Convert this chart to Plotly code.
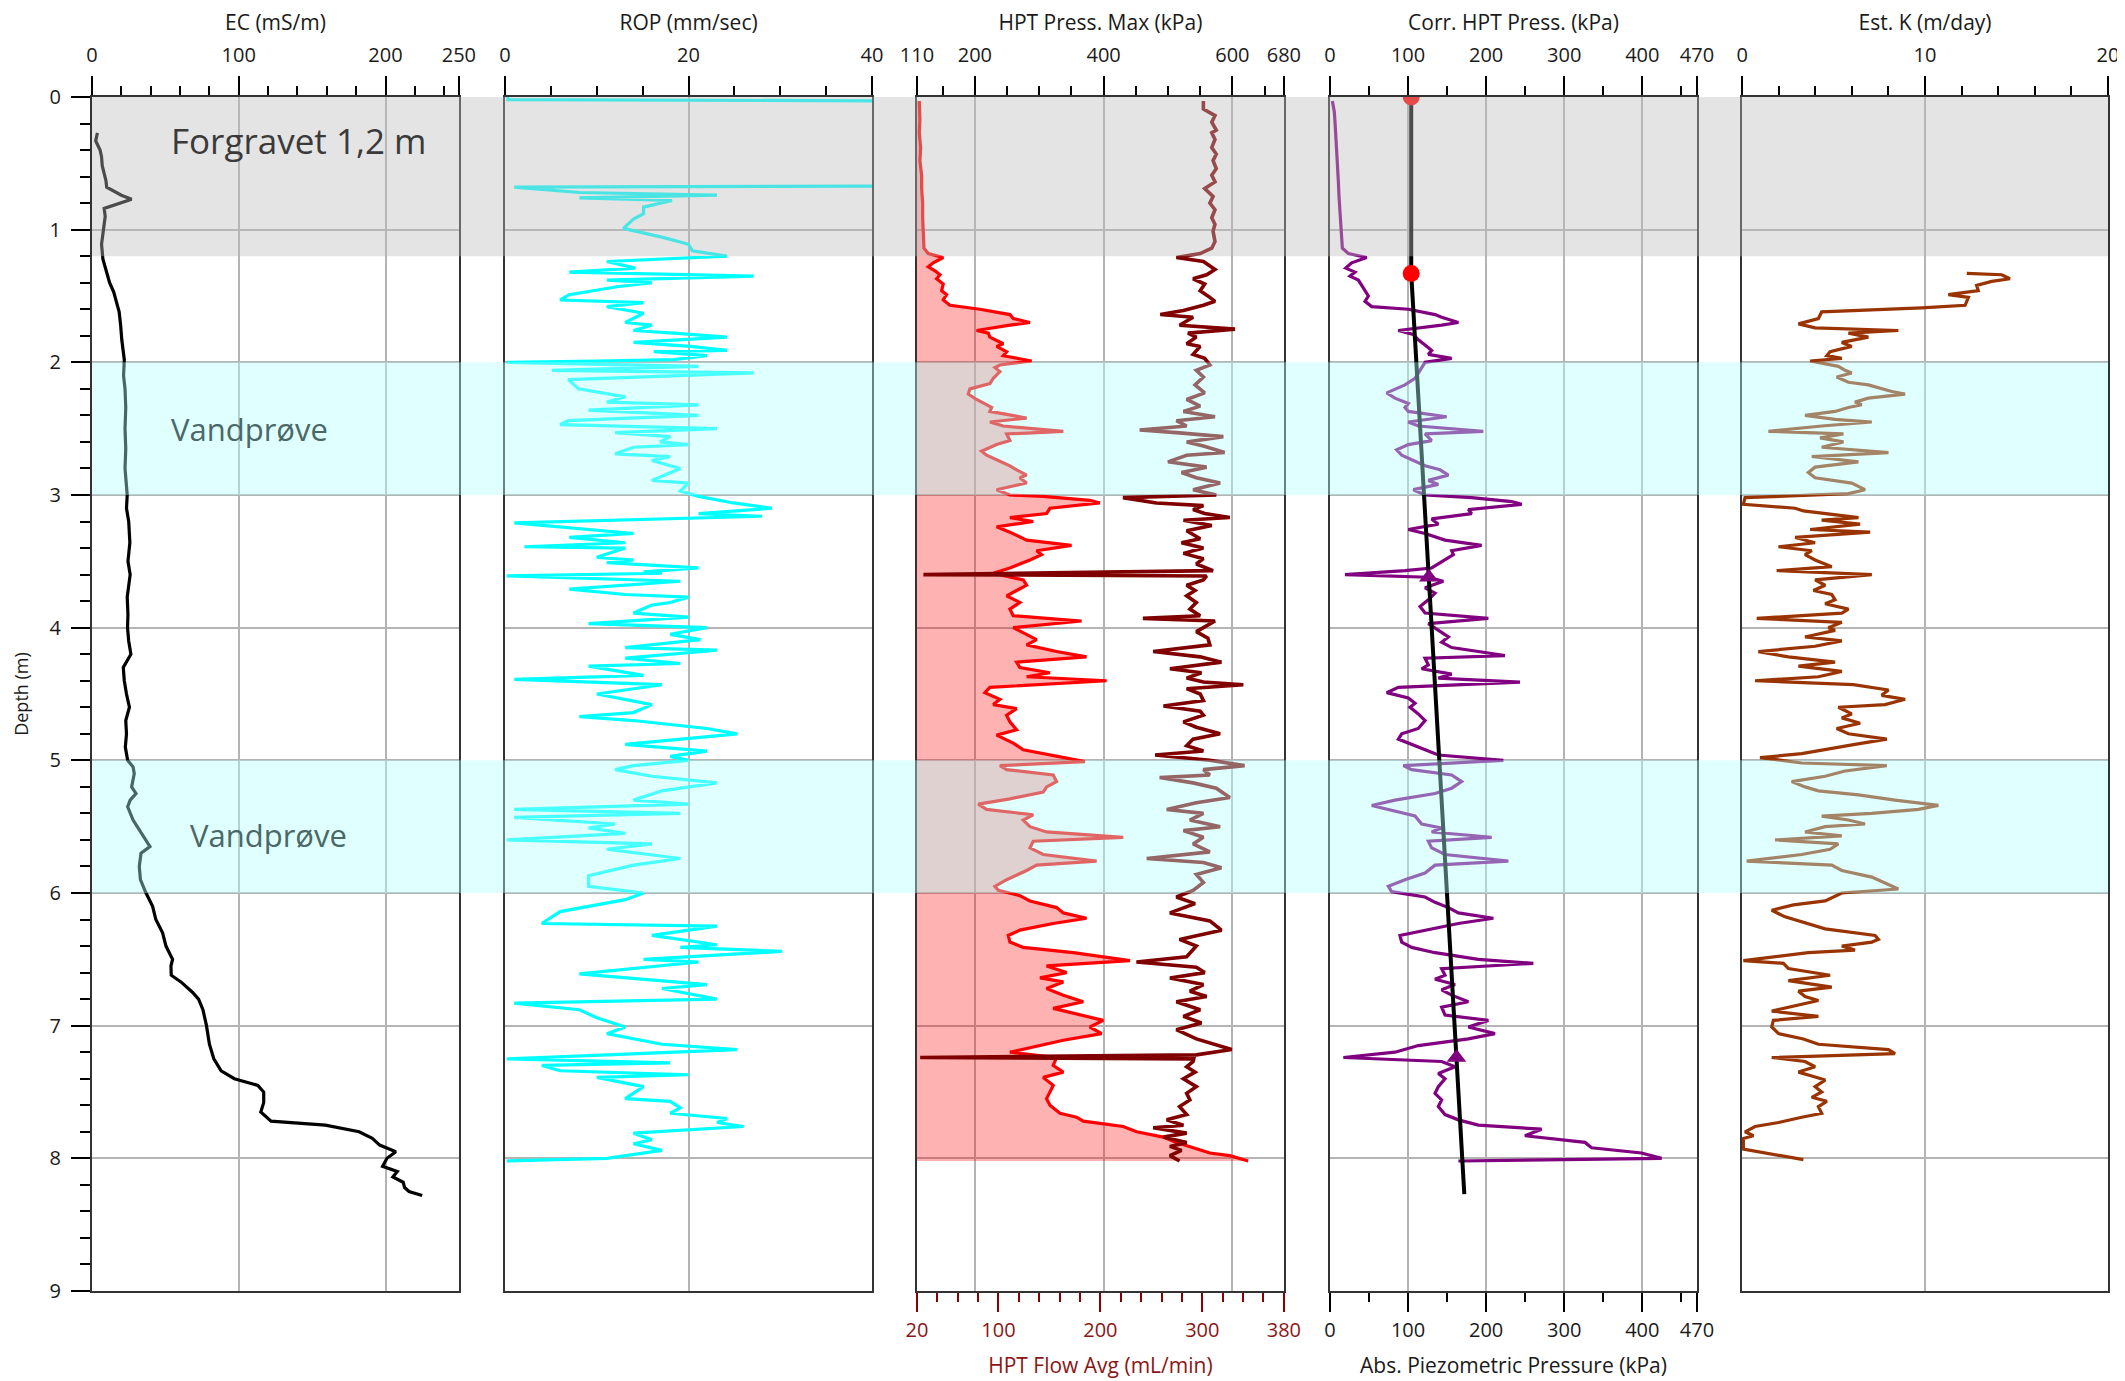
import plotly.graph_objects as go

# ---------------- DATA ----------------
ec_depth = [0.27, 0.33, 0.40, 0.45, 0.52, 0.57, 0.63, 0.68, 0.72, 0.74, 0.77, 0.79, 0.81, 0.84, 0.90, 0.96, 1.05, 1.11, 1.22,
            1.32, 1.40, 1.47, 1.55, 1.62, 1.72, 1.83, 1.98, 2.10, 2.20, 2.34, 2.50, 2.65, 2.80, 3.00, 3.10, 3.20, 3.36, 3.50,
            3.60, 3.77, 3.90, 4.00, 4.10, 4.20, 4.30, 4.40, 4.50, 4.60, 4.70, 4.80, 4.90, 5.00, 5.05, 5.10, 5.20, 5.25, 5.30,
            5.35, 5.45, 5.55, 5.60, 5.65, 5.70, 5.80, 5.90, 6.00, 6.10, 6.20, 6.30, 6.40, 6.50, 6.55, 6.62, 6.67, 6.75, 6.80,
            6.88, 7.00, 7.14, 7.25, 7.34, 7.40, 7.45, 7.50, 7.58, 7.65, 7.72, 7.75, 7.80, 7.85, 7.90, 7.95, 8.00, 8.06, 8.10,
            8.14, 8.18, 8.22, 8.25, 8.28]
ec_value = [3.7, 2.5, 5.5, 6.5, 7.0, 8.3, 9.5, 10, 16, 20, 27, 22, 16.6, 8.3, 9.0, 8.3, 7.0, 6.5, 7.4,
            10, 12, 14.8, 17, 18.5, 19.5, 20.3, 22, 21.5, 22.5, 23, 22.5, 23, 22.5, 24, 23.5, 25, 25.8, 24.5,
            26, 24, 24.5, 24.2, 25, 26.5, 21.3, 22, 23.5, 25.5, 23, 23.5, 22.7, 24.3, 28, 28.8, 27, 30, 26,
            24.3, 28, 34, 36.8, 39.5, 33.4, 32.2, 33, 36.8, 41.3, 43.5, 48.1, 50.4, 54.9, 53.8, 54, 60.6, 68.6, 72.6,
            75.6, 78, 80, 83, 88, 97, 113, 117, 117, 115, 122, 159, 182, 191, 196, 207, 201, 198, 208,
            205, 212, 213, 216, 225]

rop_depth = [0.00, 0.02, 0.03, 0.67, 0.68, 0.72, 0.74, 0.76, 0.78, 0.83, 0.88, 0.92, 0.99, 1.04, 1.06, 1.11, 1.16, 1.20,
             1.24, 1.29, 1.32, 1.35, 1.38, 1.40, 1.43, 1.49, 1.53, 1.55, 1.58, 1.63, 1.70, 1.72, 1.76, 1.78, 1.81, 1.85,
             1.88, 1.91, 1.92, 1.95, 1.98, 1.99, 2.00, 2.03, 2.06, 2.08, 2.13, 2.20, 2.26, 2.30, 2.32, 2.36, 2.40, 2.44,
             2.47, 2.50, 2.53, 2.56, 2.60, 2.62, 2.64, 2.69, 2.71, 2.74, 2.80, 2.89, 2.91, 2.97, 3.01, 3.06, 3.10, 3.14,
             3.16, 3.21, 3.29, 3.32, 3.36, 3.39, 3.40, 3.47, 3.49, 3.51, 3.55, 3.58, 3.59, 3.61, 3.65, 3.71, 3.75, 3.77,
             3.81, 3.83, 3.89, 3.92, 3.97, 4.00, 4.05, 4.09, 4.15, 4.17, 4.23, 4.27, 4.29, 4.36, 4.39, 4.43, 4.50, 4.58,
             4.64, 4.67, 4.70, 4.76, 4.80, 4.88, 4.93, 4.97, 5.00, 5.04, 5.07, 5.12, 5.17, 5.23, 5.30, 5.33, 5.37, 5.40,
             5.43, 5.48, 5.51, 5.53, 5.55, 5.60, 5.63, 5.67, 5.74, 5.79, 5.87, 5.95, 6.00, 6.05, 6.14, 6.23, 6.25, 6.32,
             6.36, 6.39, 6.41, 6.44, 6.50, 6.52, 6.61, 6.69, 6.72, 6.80, 6.83, 6.88, 6.94, 7.01, 7.06, 7.14, 7.18, 7.25,
             7.28, 7.30, 7.34, 7.37, 7.39, 7.43, 7.46, 7.55, 7.57, 7.62, 7.66, 7.70, 7.73, 7.76, 7.81, 7.86, 7.89, 7.94,
             8.00, 8.02]
rop_value = [0.3, 0.3, 45, 45, 1.0, 8.1, 23.1, 8.1, 18.2, 15.1, 15.1, 14.0, 12.9, 16.2, 17.3, 20.0, 20.4, 24.2,
             11.1, 14.2, 7.0, 27.1, 11.1, 16.0, 12.2, 7.0, 6.0, 15.1, 11.1, 15.1, 13.1, 16.0, 14.0, 18.4, 24.2, 14.0,
             20.2, 24.2, 16.2, 22.0, 18.4, 10.0, 0.2, 21.1, 5.1, 27.1, 6.9, 8.0, 13.1, 11.1, 21.1, 9.1, 21.1, 6.9,
             6.0, 23.1, 12.0, 18.0, 16.9, 20.0, 14.0, 12.0, 18.0, 16.0, 19.1, 16.0, 20.0, 19.1, 21.1, 24.9, 29.1, 21.1,
             28.0, 1.0, 14.0, 7.0, 13.1, 2.1, 13.1, 10.0, 14.0, 11.1, 21.1, 15.1, 17.1, 0.2, 19.1, 7.0, 13.1, 20.0,
             18.0, 16.0, 14.0, 20.0, 9.1, 22.0, 18.0, 21.3, 13.1, 23.1, 13.1, 19.1, 9.1, 15.1, 1.0, 17.1, 10.0, 16.0,
             14.0, 8.1, 14.0, 22.0, 25.3, 13.1, 22.0, 18.0, 20.0, 14.0, 12.0, 16.0, 23.1, 17.1, 14.0, 20.0, 1.0, 19.1,
             1.0, 12.0, 9.1, 11.1, 13.1, 0.2, 16.0, 11.1, 19.1, 14.0, 9.1, 9.1, 15.1, 13.1, 6.0, 4.0, 23.1, 16.0,
             20.0, 23.1, 19.1, 30.2, 15.1, 21.1, 8.1, 22.0, 17.1, 23.1, 1.0, 8.1, 10.0, 13.1, 11.1, 17.1, 25.3, 0.2,
             18.0, 4.0, 6.0, 20.0, 10.0, 13.1, 15.1, 13.1, 18.0, 19.1, 18.0, 24.2, 23.1, 26.0, 14.0, 16.0, 14.0, 17.1,
             11.1, 0.2]

press_depth = [0.03, 0.09, 0.14, 0.19, 0.25, 0.27, 0.32, 0.38, 0.43, 0.48, 0.54, 0.59, 0.64, 0.69, 0.75, 0.80, 0.85, 0.91,
               0.96, 1.01, 1.09, 1.14, 1.18, 1.21, 1.24, 1.30, 1.34, 1.37, 1.41, 1.46, 1.51, 1.54, 1.57, 1.61, 1.64, 1.66,
               1.72, 1.75, 1.78, 1.81, 1.86, 1.88, 1.94, 1.97, 2.02, 2.06, 2.11, 2.17, 2.23, 2.28, 2.33, 2.37, 2.41, 2.44,
               2.48, 2.51, 2.53, 2.56, 2.60, 2.63, 2.68, 2.70, 2.75, 2.79, 2.83, 2.87, 2.91, 2.96, 3.00, 3.02, 3.06, 3.08,
               3.11, 3.14, 3.17, 3.19, 3.23, 3.27, 3.33, 3.36, 3.40, 3.44, 3.48, 3.52, 3.57, 3.60, 3.61, 3.64, 3.68, 3.72,
               3.76, 3.81, 3.86, 3.91, 3.93, 3.95, 4.00, 4.03, 4.08, 4.13, 4.18, 4.22, 4.26, 4.31, 4.34, 4.38, 4.41, 4.43,
               4.46, 4.50, 4.55, 4.59, 4.63, 4.66, 4.71, 4.75, 4.80, 4.84, 4.89, 4.93, 4.96, 5.00, 5.04, 5.07, 5.11, 5.13,
               5.17, 5.21, 5.28, 5.32, 5.37, 5.40, 5.45, 5.50, 5.53, 5.58, 5.63, 5.69, 5.74, 5.77, 5.81, 5.86, 5.92, 5.98,
               6.03, 6.08, 6.15, 6.21, 6.28, 6.35, 6.40, 6.48, 6.52, 6.56, 6.60, 6.64, 6.69, 6.74, 6.78, 6.82, 6.88, 6.93,
               6.98, 7.03, 7.10, 7.15, 7.18, 7.22, 7.24, 7.25, 7.27, 7.31, 7.35, 7.40, 7.46, 7.51, 7.56, 7.61, 7.67, 7.71,
               7.75, 7.77, 7.81, 7.84, 7.88, 7.91, 7.94, 7.98, 8.02]
press_value = [555, 555, 573, 568, 575, 568, 573, 568, 575, 570, 575, 568, 573, 557, 570, 565, 573, 568,
               573, 570, 573, 568, 550, 513, 555, 573, 560, 539, 557, 550, 565, 573, 555, 524, 488, 539,
               518, 604, 531, 544, 529, 550, 539, 557, 565, 544, 555, 542, 557, 529, 550, 524, 573, 513,
               529, 456, 513, 586, 529, 555, 588, 529, 500, 560, 521, 544, 581, 539, 575, 430, 482, 555,
               539, 557, 596, 524, 568, 529, 550, 521, 555, 524, 555, 544, 570, 120, 560, 555, 529, 542,
               529, 544, 534, 550, 461, 573, 555, 544, 562, 565, 477, 550, 583, 503, 552, 529, 555, 617,
               529, 550, 555, 493, 550, 555, 524, 544, 581, 539, 529, 555, 480, 565, 619, 555, 565, 487,
               539, 575, 596, 544, 498, 555, 534, 581, 524, 555, 539, 565, 467, 555, 583, 544, 555, 539,
               513, 542, 503, 565, 583, 518, 544, 529, 451, 544, 557, 503, 555, 534, 560, 513, 550, 524,
               552, 513, 544, 578, 599, 544, 115, 540, 539, 529, 542, 524, 544, 529, 534, 518, 529, 498,
               524, 477, 529, 493, 529, 503, 521, 503, 518]

flow_depth = [0.03, 0.17, 0.27, 0.38, 0.48, 0.59, 0.69, 0.80, 0.91, 1.01, 1.14, 1.18, 1.21, 1.25, 1.28, 1.31, 1.34, 1.37,
              1.41, 1.46, 1.49, 1.53, 1.57, 1.60, 1.64, 1.67, 1.70, 1.72, 1.76, 1.78, 1.81, 1.86, 1.88, 1.92, 1.95, 1.99,
              2.02, 2.04, 2.07, 2.12, 2.16, 2.20, 2.24, 2.28, 2.34, 2.37, 2.42, 2.45, 2.48, 2.52, 2.54, 2.59, 2.62, 2.67,
              2.70, 2.74, 2.78, 2.81, 2.85, 2.87, 2.91, 2.96, 3.00, 3.01, 3.04, 3.06, 3.10, 3.14, 3.17, 3.20, 3.24, 3.28,
              3.34, 3.38, 3.42, 3.45, 3.49, 3.55, 3.59, 3.64, 3.68, 3.72, 3.76, 3.81, 3.86, 3.91, 3.95, 4.00, 4.05, 4.09,
              4.13, 4.18, 4.22, 4.26, 4.30, 4.34, 4.37, 4.40, 4.45, 4.49, 4.54, 4.58, 4.61, 4.66, 4.71, 4.77, 4.81, 4.87,
              4.92, 4.97, 5.01, 5.04, 5.07, 5.11, 5.16, 5.20, 5.24, 5.29, 5.33, 5.37, 5.41, 5.45, 5.50, 5.54, 5.58, 5.61,
              5.66, 5.71, 5.76, 5.79, 5.83, 5.90, 5.95, 5.98, 6.02, 6.06, 6.11, 6.15, 6.19, 6.23, 6.28, 6.32, 6.37, 6.41,
              6.45, 6.51, 6.55, 6.60, 6.64, 6.67, 6.72, 6.77, 6.82, 6.87, 6.90, 6.96, 7.01, 7.06, 7.11, 7.17, 7.20, 7.24,
              7.30, 7.35, 7.39, 7.45, 7.50, 7.55, 7.60, 7.66, 7.69, 7.72, 7.76, 7.80, 7.84, 7.88, 7.92, 7.96, 7.98, 8.02]
flow_value = [22.3, 22.9, 22.3, 23.6, 22.9, 24.6, 24.6, 25.6, 25.6, 26.2, 26.9, 31.1, 45.8, 36.0, 31.1, 37.7, 42.6, 39.3,
              45.8, 44.2, 49.1, 45.8, 52.4, 81.8, 111.2, 114.5, 130.9, 111.2, 78.5, 90.0, 91.6, 104.7, 98.2, 108.0, 104.7, 132.5,
              101.4, 96.5, 101.4, 94.9, 91.6, 72.0, 70.4, 78.5, 93.3, 91.6, 127.6, 91.6, 104.7, 163.6, 108.0, 111.2, 98.2, 83.4,
              88.3, 99.8, 111.2, 117.8, 127.6, 121.0, 127.6, 98.2, 111.2, 143.9, 189.7, 199.5, 150.5, 147.2, 111.2, 134.1, 98.2, 111.2,
              127.6, 171.7, 137.4, 142.3, 130.9, 111.2, 94.9, 124.3, 127.6, 117.8, 108.0, 121.0, 111.2, 114.5, 181.5, 114.5, 127.6, 137.4,
              127.6, 157.0, 186.4, 117.8, 121.0, 150.5, 127.6, 206.1, 91.6, 86.7, 101.4, 94.9, 117.8, 108.0, 111.2, 117.8, 98.2, 114.5,
              124.3, 160.3, 184.8, 101.4, 108.0, 153.7, 157.0, 147.2, 143.9, 111.2, 80.2, 88.3, 134.1, 124.3, 130.9, 147.2, 222.4, 134.1,
              130.9, 143.9, 196.3, 137.4, 127.6, 108.0, 96.5, 99.8, 121.0, 130.9, 157.0, 163.6, 186.4, 153.7, 121.0, 109.6, 111.2, 124.3,
              173.4, 229.0, 147.2, 166.8, 140.7, 163.6, 147.2, 163.6, 183.2, 153.7, 170.1, 202.8, 189.7, 201.2, 163.6, 127.6, 111.2, 157.0,
              153.7, 163.6, 143.9, 153.7, 150.5, 147.2, 150.5, 160.3, 176.6, 183.2, 222.4, 235.5, 261.7, 274.7, 291.1, 307.4, 327.0, 345.0]

corr_depth = [0.03, 0.11, 0.19, 0.27, 0.35, 0.43, 0.54, 0.64, 0.75, 0.85, 0.96, 1.06, 1.14, 1.18, 1.21, 1.25, 1.29, 1.32,
              1.35, 1.38, 1.42, 1.46, 1.50, 1.54, 1.58, 1.60, 1.64, 1.66, 1.70, 1.72, 1.76, 1.79, 1.83, 1.87, 1.91, 1.94,
              1.97, 2.00, 2.04, 2.08, 2.12, 2.17, 2.23, 2.27, 2.31, 2.34, 2.37, 2.41, 2.45, 2.48, 2.52, 2.54, 2.59, 2.62,
              2.66, 2.70, 2.74, 2.78, 2.81, 2.85, 2.89, 2.92, 2.96, 3.00, 3.02, 3.05, 3.07, 3.11, 3.14, 3.18, 3.22, 3.26,
              3.29, 3.34, 3.38, 3.42, 3.45, 3.49, 3.55, 3.57, 3.60, 3.62, 3.65, 3.70, 3.74, 3.79, 3.84, 3.89, 3.93, 3.97,
              4.02, 4.07, 4.11, 4.15, 4.21, 4.23, 4.28, 4.31, 4.35, 4.38, 4.41, 4.45, 4.49, 4.53, 4.57, 4.60, 4.65, 4.70,
              4.76, 4.80, 4.84, 4.88, 4.92, 4.96, 5.00, 5.04, 5.07, 5.11, 5.16, 5.21, 5.25, 5.30, 5.34, 5.39, 5.42, 5.48,
              5.51, 5.54, 5.58, 5.61, 5.66, 5.71, 5.76, 5.79, 5.85, 5.90, 5.95, 5.99, 6.03, 6.07, 6.11, 6.15, 6.19, 6.23,
              6.28, 6.32, 6.37, 6.41, 6.45, 6.50, 6.53, 6.57, 6.62, 6.65, 6.69, 6.73, 6.77, 6.82, 6.86, 6.92, 6.96, 7.01,
              7.06, 7.10, 7.15, 7.20, 7.24, 7.27, 7.31, 7.36, 7.40, 7.46, 7.51, 7.56, 7.61, 7.67, 7.71, 7.75, 7.78, 7.83,
              7.88, 7.92, 7.96, 8.00, 8.02]
corr_value = [3.0, 5.5, 6.4, 7.3, 7.7, 8.5, 9.8, 10.7, 11.5, 12.8, 14.1, 14.9, 15.8, 23.5, 47.0, 27.7, 20.1, 32.0,
              25.6, 36.3, 40.6, 44.8, 49.1, 44.8, 53.4, 100.3, 134.5, 143.0, 164.4, 143.0, 87.5, 106.7, 113.1, 121.7, 130.2, 125.9,
              155.8, 121.7, 117.4, 113.1, 108.9, 96.0, 72.6, 83.2, 100.3, 96.0, 100.3, 149.4, 100.3, 113.1, 196.4, 121.7, 130.2, 100.3,
              85.4, 91.8, 106.7, 121.7, 140.9, 151.6, 125.9, 138.7, 106.7, 121.7, 181.4, 232.7, 245.5, 177.2, 181.4, 130.2, 138.7, 100.3,
              121.7, 147.3, 194.2, 155.8, 158.0, 147.3, 130.2, 96.0, 19.2, 125.9, 145.1, 121.7, 134.5, 125.9, 115.3, 121.7, 202.8, 125.9,
              138.7, 151.6, 143.0, 155.8, 224.1, 121.7, 125.9, 117.4, 155.8, 138.7, 243.3, 87.5, 72.6, 100.3, 108.9, 102.5, 113.1, 121.7,
              113.1, 91.8, 87.5, 104.6, 121.7, 138.7, 222.0, 93.9, 104.6, 155.8, 168.6, 155.8, 134.5, 83.2, 53.4, 87.5, 108.9, 117.4,
              143.0, 130.2, 207.0, 125.9, 130.2, 147.3, 228.4, 134.5, 121.7, 96.0, 74.7, 79.0, 121.7, 134.5, 151.6, 164.4, 209.2, 164.4,
              121.7, 89.6, 91.8, 104.6, 134.5, 190.0, 260.4, 143.0, 147.3, 134.5, 160.1, 143.0, 155.8, 177.2, 143.0, 147.3, 202.8, 177.2,
              211.3, 177.2, 113.1, 83.2, 17.1, 143.0, 160.1, 138.7, 147.3, 138.7, 134.5, 143.0, 138.7, 147.3, 164.4, 190.0, 271.0, 249.7,
              326.6, 335.0, 399.0, 424.8, 164.4]

piezo_depth = [0.0, 1.33, 3.62, 7.24, 8.27]
piezo_value = [104, 104, 126.5, 162, 172]
surface_depth = [0.0, 1.33]
surface_value = [104, 104]
dissip_depth = [3.62, 7.24]
dissip_value = [126.5, 162]

k_depth = [1.33, 1.34, 1.37, 1.39, 1.42, 1.46, 1.49, 1.51, 1.57, 1.59, 1.62, 1.65, 1.67, 1.71, 1.74, 1.76, 1.78, 1.81,
           1.85, 1.88, 1.92, 1.95, 1.97, 1.99, 2.03, 2.06, 2.08, 2.11, 2.15, 2.17, 2.22, 2.24, 2.27, 2.30, 2.32, 2.34,
           2.37, 2.40, 2.43, 2.45, 2.48, 2.52, 2.54, 2.57, 2.60, 2.64, 2.68, 2.71, 2.75, 2.79, 2.83, 2.87, 2.91, 2.96,
           2.99, 3.02, 3.07, 3.10, 3.12, 3.17, 3.19, 3.22, 3.26, 3.28, 3.32, 3.36, 3.39, 3.42, 3.45, 3.49, 3.54, 3.57,
           3.60, 3.64, 3.68, 3.72, 3.75, 3.79, 3.82, 3.86, 3.89, 3.93, 3.96, 4.00, 4.02, 4.07, 4.10, 4.14, 4.18, 4.22,
           4.26, 4.29, 4.33, 4.37, 4.40, 4.43, 4.47, 4.51, 4.54, 4.58, 4.60, 4.65, 4.68, 4.72, 4.76, 4.80, 4.84, 4.88,
           4.91, 4.95, 4.98, 5.02, 5.04, 5.08, 5.12, 5.16, 5.20, 5.23, 5.26, 5.30, 5.34, 5.37, 5.40, 5.42, 5.45, 5.48,
           5.50, 5.54, 5.57, 5.60, 5.63, 5.67, 5.71, 5.76, 5.79, 5.83, 5.88, 5.94, 5.97, 6.00, 6.06, 6.09, 6.13, 6.18,
           6.21, 6.27, 6.32, 6.35, 6.37, 6.40, 6.43, 6.45, 6.51, 6.53, 6.57, 6.62, 6.66, 6.71, 6.74, 6.78, 6.81, 6.85,
           6.89, 6.93, 6.96, 7.01, 7.06, 7.10, 7.14, 7.18, 7.21, 7.24, 7.27, 7.31, 7.35, 7.38, 7.41, 7.46, 7.50, 7.54,
           7.57, 7.61, 7.66, 7.69, 7.73, 7.76, 7.80, 7.83, 7.85, 7.93, 8.01]
k_value = [12.28, 14.19, 14.64, 13.64, 12.82, 12.91, 11.27, 12.37, 12.19, 9.82, 4.35, 4.26, 4.17, 3.08, 3.99, 8.54, 5.81, 6.90,
           5.45, 5.99, 4.81, 4.63, 5.45, 3.72, 5.26, 5.63, 5.99, 5.17, 5.81, 6.90, 8.18, 8.91, 6.90, 6.17, 6.54, 5.81,
           5.08, 3.44, 5.08, 7.09, 4.35, 1.44, 5.54, 4.26, 5.54, 4.35, 8.00, 3.81, 6.36, 3.99, 3.62, 3.99, 5.99, 6.72,
           5.81, 0.16, 0.07, 2.90, 3.35, 6.36, 4.35, 6.45, 3.72, 7.00, 2.90, 3.99, 1.99, 3.81, 3.44, 3.99, 4.90, 1.89,
           7.09, 3.99, 4.54, 3.90, 4.90, 5.08, 4.54, 5.81, 5.45, 0.80, 5.45, 4.72, 5.08, 3.44, 5.45, 3.99, 0.89, 2.53,
           5.08, 3.08, 5.45, 4.17, 0.71, 6.08, 8.00, 7.63, 8.91, 7.81, 5.26, 5.99, 5.45, 6.45, 5.17, 5.81, 7.91, 6.17,
           4.90, 3.26, 0.98, 3.26, 7.91, 5.63, 4.54, 2.71, 3.44, 4.17, 6.36, 8.36, 10.73, 9.64, 7.09, 4.35, 5.81, 6.72,
           4.54, 3.44, 5.45, 1.80, 5.26, 4.81, 3.26, 0.25, 4.90, 5.45, 7.09, 8.00, 8.54, 5.45, 4.54, 2.81, 1.62, 2.35,
           3.08, 4.54, 7.27, 7.45, 7.09, 5.45, 6.17, 3.62, 0.07, 2.26, 2.53, 4.81, 2.53, 4.90, 3.08, 3.44, 4.17, 2.81,
           1.62, 4.17, 1.71, 1.62, 1.99, 3.35, 4.17, 8.00, 8.36, 1.62, 3.44, 3.99, 3.08, 3.81, 4.54, 3.99, 4.35, 3.81,
           4.63, 4.17, 4.35, 3.26, 1.99, 0.71, 0.16, 0.62, 0.07, 0.07, 3.35]

ec_ticks = [0, 100, 200, 250]
ec_minor = [20, 40, 60, 80, 120, 140, 160, 180, 220, 240]
rop_ticks = [0, 20, 40]
rop_minor = [5, 10, 15, 25, 30, 35]
press_ticks = [110, 200, 400, 600, 680]
press_minor = [150, 250, 300, 350, 450, 500, 550, 650]
flow_ticks = [20, 100, 200, 300, 380]
flow_minor = [40, 60, 80, 120, 140, 160, 180, 220, 240, 260, 280, 320, 340, 360]
corr_ticks = [0, 100, 200, 300, 400, 470]
corr_minor = [50, 150, 250, 350, 450]
k_ticks = [0, 10, 20]
k_minor = [2, 4, 6, 8, 12, 14, 16, 18]

FONT = "Open Sans"
DARKRED_TXT = "#8b1515"
LW = 3.2

# ---------------- FIGURE ----------------
fig = go.Figure()

fig.add_trace(go.Scatter(x=ec_value, y=ec_depth, mode="lines", line=dict(color="#000000", width=LW),
                         xaxis="x", yaxis="y", showlegend=False))
fig.add_trace(go.Scatter(x=rop_value, y=rop_depth, mode="lines", line=dict(color="#00ffff", width=LW),
                         xaxis="x2", yaxis="y2", showlegend=False))
fig.add_trace(go.Scatter(x=flow_value, y=flow_depth, mode="lines", line=dict(color="#ff0000", width=LW),
                         fill="tozerox", fillcolor="rgba(255,0,0,0.3)",
                         xaxis="x3", yaxis="y3", showlegend=False))
fig.add_trace(go.Scatter(x=press_value, y=press_depth, mode="lines", line=dict(color="#800000", width=3.6),
                         xaxis="x6", yaxis="y3", showlegend=False))
fig.add_trace(go.Scatter(x=corr_value, y=corr_depth, mode="lines", line=dict(color="#800080", width=LW),
                         xaxis="x4", yaxis="y4", showlegend=False))
fig.add_trace(go.Scatter(x=piezo_value, y=piezo_depth, mode="lines", line=dict(color="#000000", width=4),
                         xaxis="x7", yaxis="y4", showlegend=False))
fig.add_trace(go.Scatter(x=surface_value, y=surface_depth, mode="markers",
                         marker=dict(color="#ff0000", size=17, symbol="circle"),
                         xaxis="x7", yaxis="y4", showlegend=False))
fig.add_trace(go.Scatter(x=dissip_value, y=dissip_depth, mode="markers",
                         marker=dict(color="#800080", size=17, symbol="triangle-up"),
                         xaxis="x7", yaxis="y4", showlegend=False))
fig.add_trace(go.Scatter(x=k_value, y=k_depth, mode="lines", line=dict(color="#993300", width=LW),
                         xaxis="x5", yaxis="y5", showlegend=False))

doms = [[0.0, 0.1820], [0.2049, 0.3869], [0.4092, 0.5912], [0.6141, 0.7961], [0.8185, 1.0]]


def xax(title, rng, ticks, minor, side="top", grid=True, color="#1a1a1a", tickcolor="#000000", **kw):
    top = side == "top"
    d = dict(
        range=rng, side=side, tickmode="array", tickvals=ticks, ticktext=[str(t) for t in ticks],
        ticks="outside", ticklen=19, tickwidth=2, tickcolor=tickcolor,
        minor=dict(tickmode="array", tickvals=minor, ticks="outside", ticklen=9, tickwidth=2,
                   tickcolor=tickcolor, showgrid=False),
        showline=True, linecolor="#333333", linewidth=2, mirror=True,
        showgrid=grid, gridcolor="#b4b4b4", gridwidth=1.5, zeroline=False,
        tickfont=dict(size=20, color=color, family=FONT), ticklabelstandoff=6 if top else 1,
        title=dict(text=title, font=dict(size=21, color=color, family=FONT), standoff=8 if top else 16),
    )
    d.update(kw)
    return d


def yax(anchor, first=False):
    d = dict(
        range=[9, 0], anchor=anchor, domain=[0, 1], tickmode="linear", tick0=0, dtick=1,
        showgrid=True, gridcolor="#b4b4b4", gridwidth=1.5, zeroline=False,
        showline=True, linecolor="#333333", linewidth=2, mirror=True,
    )
    if first:
        d.update(ticks="outside", ticklen=19, tickwidth=2, tickcolor="#000000",
                 minor=dict(dtick=0.2, tick0=0, ticks="outside", ticklen=10, tickwidth=2,
                            tickcolor="#000000", showgrid=False),
                 tickfont=dict(size=20, color="#1a1a1a", family=FONT), ticklabelstandoff=6,
                 title=dict(text="Depth (m)", font=dict(size=18, color="#1a1a1a", family=FONT), standoff=16))
    else:
        d.update(matches="y", ticks="", showticklabels=False, minor=dict(ticks=""))
    return d


# The page body has an 8 px margin, so the figure is 8 px smaller and its margins are shifted.
fig.update_layout(
    width=2117, height=1373,
    margin=dict(l=84, r=17, t=89, b=90, autoexpand=False),
    paper_bgcolor="white", plot_bgcolor="white",
    font=dict(family=FONT, color="#1a1a1a"),
    showlegend=False,
    xaxis=xax("EC (mS/m)", [0, 250], ec_ticks, ec_minor, domain=doms[0], anchor="y"),
    xaxis2=xax("ROP (mm/sec)", [0, 40], rop_ticks, rop_minor, domain=doms[1], anchor="y2"),
    xaxis3=xax("HPT Flow Avg (mL/min)", [20, 380], flow_ticks, flow_minor, side="bottom", grid=False,
               color=DARKRED_TXT, tickcolor="#8b0000", domain=doms[2], anchor="y3"),
    xaxis6=xax("HPT Press. Max (kPa)", [110, 680], press_ticks, press_minor,
               overlaying="x3", anchor="y3"),
    xaxis4=xax("Corr. HPT Press. (kPa)", [0, 470], corr_ticks, corr_minor, domain=doms[3], anchor="y4"),
    xaxis7=xax("Abs. Piezometric Pressure (kPa)", [0, 470], corr_ticks, corr_minor, side="bottom", grid=False,
               overlaying="x4", anchor="y4"),
    xaxis5=xax("Est. K (m/day)", [0, 20], k_ticks, k_minor, domain=doms[4], anchor="y5"),
    yaxis=yax("x", first=True),
    yaxis2=yax("x2"),
    yaxis3=yax("x3"),
    yaxis4=yax("x4"),
    yaxis5=yax("x5"),
)

# zone bands drawn over the logs (semi-transparent)
bands = [(0.0, 1.2, "rgba(187,187,187,0.4)"), (2.0, 3.0, "rgba(177,255,255,0.4)"), (5.0, 6.0, "rgba(177,255,255,0.4)")]
for y0, y1, col in bands:
    fig.add_shape(type="rect", xref="paper", yref="y", x0=0, x1=1, y0=y0, y1=y1,
                  fillcolor=col, line=dict(width=0), layer="above")

fig.add_annotation(x=141, y=0.33, xref="x", yref="y", text="Forgravet 1,2 m", showarrow=False,
                   font=dict(size=35, color="#3a3a3a", family=FONT))
fig.add_annotation(x=107, y=2.5, xref="x", yref="y", text="Vandprøve", showarrow=False,
                   font=dict(size=31, color="#4a6868", family=FONT))
fig.add_annotation(x=120, y=5.56, xref="x", yref="y", text="Vandprøve", showarrow=False,
                   font=dict(size=31, color="#4a6868", family=FONT))

fig.write_html("out.html")
